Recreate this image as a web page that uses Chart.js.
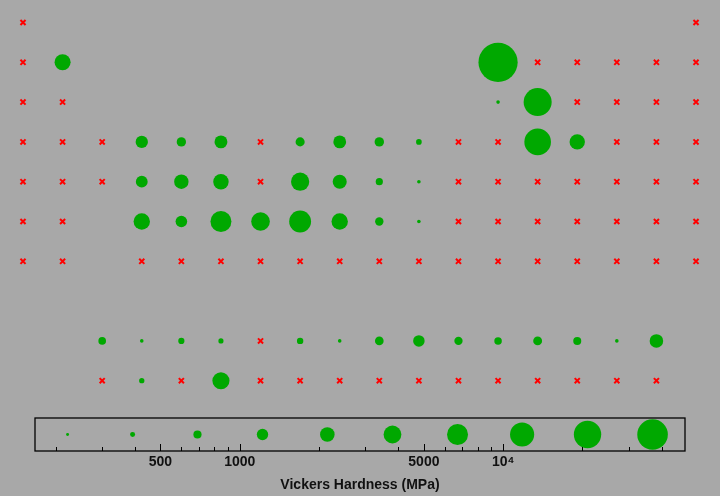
<!DOCTYPE html>
<html>
<head>
<meta charset="utf-8">
<script src="https://cdn.jsdelivr.net/npm/chart.js@4.4.0/dist/chart.umd.min.js"></script>
<style>
  body { margin: 0; background: #a8a8a8; }
  #wrap { position: relative; width: 720px; height: 496px; overflow: hidden; }
  #tableChart { position: absolute; left: 0; top: 0; }
  #scaleChart { position: absolute; left: 0; top: 400px; }
</style>
</head>
<body>
<div id="wrap">
  <canvas id="tableChart" width="720" height="400"></canvas>
  <canvas id="scaleChart" width="720" height="96"></canvas>
</div>
<script>
// Elements laid out as a periodic table (group = column, period = row, 9/10 = La/Ac rows)
const symbols = ['H','He',
  'Li','Be','B','C','N','O','F','Ne',
  'Na','Mg','Al','Si','P','S','Cl','Ar',
  'K','Ca','Sc','Ti','V','Cr','Mn','Fe','Co','Ni','Cu','Zn','Ga','Ge','As','Se','Br','Kr',
  'Rb','Sr','Y','Zr','Nb','Mo','Tc','Ru','Rh','Pd','Ag','Cd','In','Sn','Sb','Te','I','Xe',
  'Cs','Ba','Hf','Ta','W','Re','Os','Ir','Pt','Au','Hg','Tl','Pb','Bi','Po','At','Rn',
  'Fr','Ra','Rf','Db','Sg','Bh','Hs','Mt','Ds','Rg','Cn','Nh','Fl','Mc','Lv','Ts','Og',
  'La','Ce','Pr','Nd','Pm','Sm','Eu','Gd','Tb','Dy','Ho','Er','Tm','Yb','Lu',
  'Ac','Th','Pa','U','Np','Pu','Am','Cm','Bk','Cf','Es','Fm','Md','No','Lr'];

const groups = [1,18,
  1,2,13,14,15,16,17,18,
  1,2,13,14,15,16,17,18,
  1,2,3,4,5,6,7,8,9,10,11,12,13,14,15,16,17,18,
  1,2,3,4,5,6,7,8,9,10,11,12,13,14,15,16,17,18,
  1,2,4,5,6,7,8,9,10,11,12,13,14,15,16,17,18,
  1,2,4,5,6,7,8,9,10,11,12,13,14,15,16,17,18,
  3,4,5,6,7,8,9,10,11,12,13,14,15,16,17,
  3,4,5,6,7,8,9,10,11,12,13,14,15,16,17];

const periods = [1,1,
  2,2,2,2,2,2,2,2,
  3,3,3,3,3,3,3,3,
  4,4,4,4,4,4,4,4,4,4,4,4,4,4,4,4,4,4,
  5,5,5,5,5,5,5,5,5,5,5,5,5,5,5,5,5,5,
  6,6,6,6,6,6,6,6,6,6,6,6,6,6,6,6,6,
  7,7,7,7,7,7,7,7,7,7,7,7,7,7,7,7,7,
  9,9,9,9,9,9,9,9,9,9,9,9,9,9,9,
  10,10,10,10,10,10,10,10,10,10,10,10,10,10,10];

// Vickers hardness in MPa, null = no data (red cross)
const hardness = [null,null,
  null,1670,49000,null,null,null,null,null,
  null,null,167,9630,null,null,null,null,
  null,null,null,970,628,1060,null,608,1043,638,369,null,null,7800,1510,null,null,null,
  null,null,null,903,1320,1530,null,2298,1246,461,251,null,null,null,null,null,null,null,
  null,null,1760,873,3430,2450,3920,1760,549,216,null,null,null,null,null,null,null,
  null,null,null,null,null,null,null,null,null,null,null,null,null,null,null,null,null,
  491,270,400,343,null,412,167,570,863,540,481,589,520,206,1160,
  null,350,null,1960,null,null,null,null,null,null,null,null,null,null,null];

// Size key along the bottom
const legendValues = [222, 392, 691, 1220, 2150, 3800, 6710, 11800, 20900, 36900];
const tickValues = [200,300,400,500,600,700,800,900,1000,2000,3000,4000,5000,6000,7000,8000,9000,10000,20000,30000,40000];
const majorTicks = [500, 1000, 5000, 10000];
const tickLabels = ['500', '1000', '5000', '10\u2074'];

const green = '#00a800';
const red = '#ff0000';

Chart.defaults.font.family = '"Liberation Sans", Arial, sans-serif';
Chart.defaults.color = '#111';

// bubble radius grows with log of the hardness
function bubbleRadius(v) {
  return Math.max(1.8, 4.2 + 7.9 * (Math.log10(v) - 2.74));
}

// Build the two point lists
var measured = [];
var missing = [];
symbols.forEach(function (s, i) {
  if (hardness[i] === null) {
    missing.push({ x: groups[i], y: periods[i] });
  } else {
    measured.push({ x: groups[i], y: periods[i], r: bubbleRadius(hardness[i]) });
  }
});

var tableChart = new Chart(document.getElementById('tableChart'), {
  type: 'bubble',
  data: {
    datasets: [
      {
        label: 'Hardness',
        data: measured,
        backgroundColor: green,
        borderWidth: 0,
        clip: false
      },
      {
        type: 'scatter',
        label: 'No data',
        data: missing,
        pointStyle: 'crossRot',
        pointRadius: 3.6,
        borderColor: red,
        borderWidth: 2,
        backgroundColor: red,
        clip: false
      }
    ]
  },
  options: {
    responsive: false,
    animation: false,
    events: [],
    layout: { padding: 0, autoPadding: false },
    plugins: { legend: { display: false }, tooltip: { enabled: false } },
    scales: {
      x: { type: 'linear', display: false, min: 0.419, max: 18.606 },
      y: { type: 'linear', display: false, reverse: true, min: 0.435, max: 10.485 }
    }
  }
});

// Box around the size key plus inward tick marks
const keyFrame = {
  id: 'keyFrame',
  afterDraw: function (chart) {
    var ctx = chart.ctx;
    var area = chart.chartArea;
    var xs = chart.scales.x;
    ctx.save();
    ctx.strokeStyle = '#000';
    ctx.lineWidth = 1.3;
    ctx.strokeRect(area.left, area.top, area.right - area.left, area.bottom - area.top);
    ctx.lineWidth = 1;
    tickValues.forEach(function (v) {
      var px = Math.round(xs.getPixelForValue(v)) + 0.5;
      var len = majorTicks.indexOf(v) >= 0 ? 7 : 4;
      ctx.beginPath();
      ctx.moveTo(px, area.bottom);
      ctx.lineTo(px, area.bottom - len);
      ctx.stroke();
    });
    ctx.restore();
  }
};

var scaleChart = new Chart(document.getElementById('scaleChart'), {
  type: 'bubble',
  data: {
    datasets: [{
      label: 'Key',
      data: legendValues.map(function (v) { return { x: v, y: 0, r: 0.82 * bubbleRadius(v) }; }),
      backgroundColor: green,
      borderWidth: 0,
      clip: false
    }]
  },
  options: {
    responsive: false,
    animation: false,
    events: [],
    layout: { padding: { left: 35, right: 35, top: 18, bottom: 2.6 }, autoPadding: false },
    plugins: {
      legend: { display: false },
      tooltip: { enabled: false },
      title: {
        display: true,
        position: 'bottom',
        text: 'Vickers Hardness (MPa)',
        color: '#111',
        font: { size: 14, weight: 'bold' },
        padding: { top: 2.8, bottom: 0 }
      }
    },
    scales: {
      x: {
        type: 'logarithmic',
        min: 167,
        max: 49000,
        border: { display: false },
        grid: { display: false, drawTicks: false, tickLength: 0 },
        afterBuildTicks: function (scale) {
          scale.ticks = tickValues.map(function (v) { return { value: v }; });
        },
        ticks: {
          autoSkip: false,
          maxRotation: 0,
          padding: 3,
          font: { size: 14, weight: 'bold' },
          callback: function (value) {
            var k = majorTicks.indexOf(value);
            return k >= 0 ? tickLabels[k] : '';
          }
        }
      },
      y: { type: 'linear', display: false, min: -1, max: 1 }
    }
  },
  plugins: [keyFrame]
});
</script>
</body>
</html>
